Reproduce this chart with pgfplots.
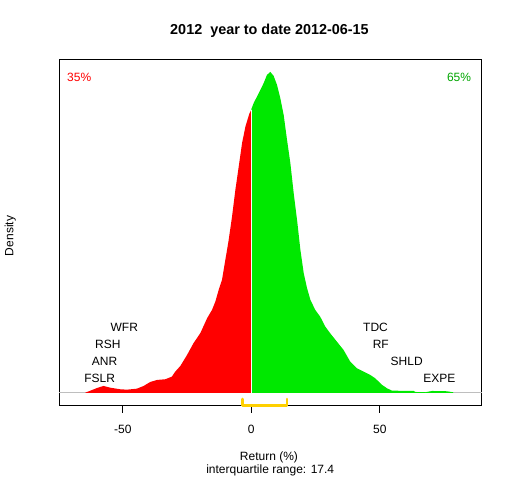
\documentclass[border=0pt]{standalone}
\usepackage{fontspec}
\setmainfont{Liberation Sans}
\usepackage{pgfplots}
\pgfplotsset{compat=1.18}
\definecolor{rgray}{RGB}{190,190,190}
\definecolor{rgreen}{RGB}{0,232,0}
\definecolor{tgreen}{RGB}{0,165,0}
\definecolor{rgold}{RGB}{255,208,0}
\begin{document}
\begin{tikzpicture}[x=1bp,y=1bp,every node/.style={font=\fontsize{12bp}{14bp}\selectfont}]
\useasboundingbox (0,0) rectangle (512,480);
\begin{axis}[at={(59.3bp,74.3bp)}, anchor=south west,
  width=422.4bp, height=346.4bp, scale only axis,
  xmin=-74.7, xmax=89.65, ymin=-0.001283, ymax=0.033353,
  xtick={-50,0,50}, xticklabels={}, ytick=\empty,
  xtick pos=bottom, tick align=outside, major tick length=7bp,
  tick style={black, line width=0.8bp},
  axis line style={line width=0.8bp},
  clip=false]
\addplot[color=rgray, line width=1bp] coordinates {(-74.7,0) (89.65,0)};
\addplot[fill=red, draw=none] coordinates {
(-64.6,0) (-64.6,0.00002) (-62.6,0.00022) (-60.0,0.00049) (-57.5,0.00069)
(-54.9,0.00052) (-51.0,0.00036) (-48.4,0.00032) (-44.5,0.00042) (-41.9,0.00069)
(-39.3,0.00109) (-36.7,0.00129) (-33.5,0.00136) (-30.9,0.00162) (-29.6,0.00212)
(-27.6,0.00269) (-25.0,0.00379) (-22.5,0.00496) (-19.8,0.00599) (-17.2,0.00746)
(-15.3,0.00829) (-14.0,0.00912) (-12.7,0.01029) (-11.4,0.01129) (-10.1,0.01329)
(-8.8,0.01529) (-7.5,0.01762) (-6.2,0.02029) (-4.9,0.02262) (-3.6,0.02496)
(-2.3,0.02662) (-0.7,0.02796) (0,0.02829) (0,0)};
\addplot[fill=rgreen, draw=none] coordinates {
(0,0) (0,0.02836) (0.9,0.02896) (2.2,0.02962) (3.5,0.03029) (4.8,0.03096)
(6.1,0.03179) (7.4,0.03209) (8.7,0.03169) (10.0,0.03079) (11.3,0.02946)
(12.6,0.02779) (13.9,0.02529) (15.2,0.02296) (16.5,0.01996) (17.8,0.01729)
(19.1,0.01429) (20.4,0.01196) (21.7,0.01046) (23.0,0.00929) (24.9,0.00829)
(26.8,0.00762) (28.8,0.00662) (30.7,0.00596) (33.3,0.00512) (35.9,0.00429)
(38.5,0.00312) (41.1,0.00246) (43.7,0.00212) (46.3,0.00179) (48.2,0.00146)
(50.9,0.00079) (52.8,0.00046) (54.7,0.00022) (63.2,0.00019) (63.8,0.00009)
(67.7,0.00006) (70.3,0.00019) (76.1,0.00016) (78.5,0.00006) (78.6,0)};
\addplot[color=white, line width=1.3bp] coordinates {(0,0) (0,0.02832)};
\addplot[color=rgold, line width=2.5bp, line join=round, line cap=round] coordinates {
(-3.5,-0.00061) (-3.5,-0.001283) (13.9,-0.001283) (13.9,-0.00061)};
\node[anchor=base, yshift=-27.6bp] at (axis cs:-50,-0.001283) {-50};
\node[anchor=base, yshift=-27.6bp] at (axis cs:0,-0.001283) {0};
\node[anchor=base, yshift=-27.6bp] at (axis cs:50,-0.001283) {50};
\end{axis}
\node[anchor=base, font=\fontsize{14.4bp}{17bp}\selectfont\bfseries] at (269.5,445) {2012\ \ year to date 2012-06-15};
\node[anchor=base] at (269,19.3) {Return (\%)};
\node[anchor=base] at (270.2,6) {interquartile range: 17.4};
\node[anchor=base, rotate=90] at (13.3,244) {Density};
\node[text=red] at (79.2,402.5) {35\%};
\node[text=tgreen] at (459,402.5) {65\%};
\node at (124.3,152.5) {WFR};
\node at (107.8,135.3) {RSH};
\node at (104.5,118.3) {ANR};
\node at (99.7,101.7) {FSLR};
\node at (375.5,152.7) {TDC};
\node at (380.8,135.3) {RF};
\node at (406.7,118.3) {SHLD};
\node at (439.3,101.7) {EXPE};
\end{tikzpicture}
\end{document}
